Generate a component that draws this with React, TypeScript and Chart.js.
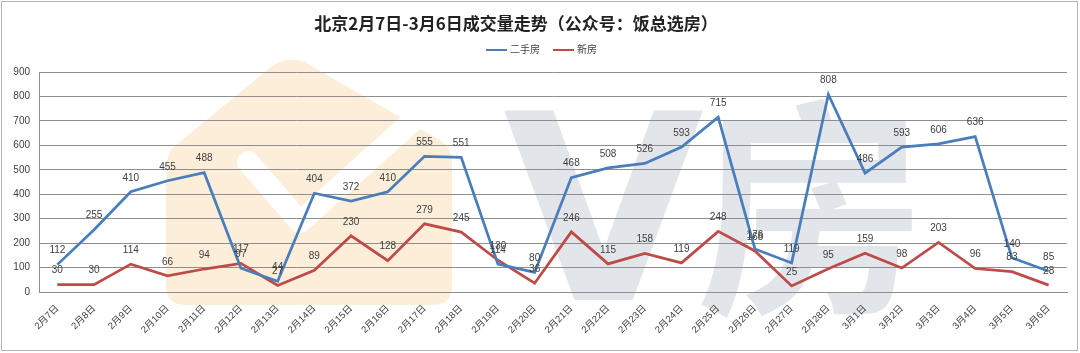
import React, { useEffect, useRef } from "react";
import { Chart, registerables } from "chart.js";

Chart.register(...registerables);

const titleText = "北京2月7日-3月6日成交量走势（公众号：饭总选房）";

const categories = [
  "2月7日", "2月8日", "2月9日", "2月10日", "2月11日", "2月12日", "2月13日",
  "2月14日", "2月15日", "2月16日", "2月17日", "2月18日", "2月19日", "2月20日",
  "2月21日", "2月22日", "2月23日", "2月24日", "2月25日", "2月26日", "2月27日",
  "2月28日", "3月1日", "3月2日", "3月3日", "3月4日", "3月5日", "3月6日",
];

const secondHandLabel = "二手房";
const secondHand = [
  112, 255, 410, 455, 488, 97, 44, 404, 372, 410, 555, 551, 114, 80,
  468, 508, 526, 593, 715, 176, 119, 808, 486, 593, 606, 636, 140, 85,
];

const newHomeLabel = "新房";
const newHomes = [
  30, 30, 114, 66, 94, 117, 27, 89, 230, 128, 279, 245, 130, 36,
  246, 115, 158, 119, 248, 168, 25, 95, 159, 98, 203, 96, 83, 28,
];

const yMin = 0;
const yMax = 900;
const yStep = 100;

const BLUE = "#4a7ebb";
const RED = "#be4b48";
const GRID = "#8e8e8e";
const TEXT = "#404040";
const FONT = "'Liberation Sans', 'Noto Sans CJK SC', sans-serif";

const decorPlugin = {
  id: "decor",
  beforeDraw(chart: any) {
    const ctx = chart.ctx as CanvasRenderingContext2D;
    const w = chart.width;
    const h = chart.height;
    ctx.save();
    ctx.fillStyle = "#ffffff";
    ctx.fillRect(0, 0, w, h);

    // watermark: orange house logo
    ctx.fillStyle = "#fdeed9";
    ctx.beginPath();
    ctx.moveTo(170, 150);
    ctx.lineTo(272, 66);
    ctx.quadraticCurveTo(290, 54, 308, 64);
    ctx.lineTo(440, 140);
    ctx.quadraticCurveTo(452, 148, 452, 162);
    ctx.lineTo(452, 285);
    ctx.quadraticCurveTo(452, 305, 432, 305);
    ctx.lineTo(186, 305);
    ctx.quadraticCurveTo(166, 305, 166, 285);
    ctx.lineTo(166, 165);
    ctx.closePath();
    ctx.fill();
    ctx.strokeStyle = "#ffffff";
    ctx.lineWidth = 22;
    ctx.lineCap = "round";
    ctx.lineJoin = "round";
    ctx.beginPath();
    ctx.moveTo(248, 162);
    ctx.lineTo(300, 222);
    ctx.lineTo(445, 92);
    ctx.stroke();

    // watermark: gray text
    ctx.fillStyle = "#e2e5ea";
    ctx.textBaseline = "alphabetic";
    ctx.textAlign = "left";
    ctx.font = "bold 260px 'DejaVu Sans', sans-serif";
    ctx.fillText("V", 503, 300);
    ctx.font = "bold 230px 'Noto Sans CJK SC', sans-serif";
    ctx.fillText("房", 696, 295);
    ctx.restore();
  },
  afterDraw(chart: any) {
    const ctx = chart.ctx as CanvasRenderingContext2D;
    ctx.save();
    // outer border
    ctx.strokeStyle = "#b4b4b4";
    ctx.lineWidth = 1;
    ctx.strokeRect(1.5, 1.5, chart.width - 4, chart.height - 4);

    // title
    ctx.fillStyle = "#222222";
    ctx.font = `bold 17px 'Noto Sans CJK SC', sans-serif`;
    ctx.textAlign = "center";
    ctx.textBaseline = "middle";
    ctx.fillText(titleText, 516, 24);

    // legend
    ctx.font = `10px ${FONT}`;
    ctx.textAlign = "left";
    let x = 486;
    const ly = 50;
    chart.data.datasets.forEach((ds: any) => {
      ctx.strokeStyle = ds.borderColor;
      ctx.lineWidth = 2;
      ctx.beginPath();
      ctx.moveTo(x, ly);
      ctx.lineTo(x + 21, ly);
      ctx.stroke();
      ctx.fillStyle = TEXT;
      ctx.fillText(ds.label, x + 24, ly);
      x += 24 + ctx.measureText(ds.label).width + 13;
    });

    // data labels
    ctx.font = `10px ${FONT}`;
    ctx.textAlign = "center";
    ctx.textBaseline = "middle";
    ctx.fillStyle = TEXT;
    chart.data.datasets.forEach((ds: any, di: number) => {
      const meta = chart.getDatasetMeta(di);
      meta.data.forEach((pt: any, i: number) => {
        ctx.fillText(String(ds.data[i]), pt.x, pt.y - 14);
      });
    });
    ctx.restore();
  },
};

export default function App() {
  const ref = useRef<HTMLCanvasElement | null>(null);

  useEffect(() => {
    document.body.style.margin = "0";
    const canvas = ref.current!;
    const chart = new Chart(canvas, {
      type: "line",
      data: {
        labels: categories,
        datasets: [
          {
            label: secondHandLabel,
            data: secondHand,
            borderColor: BLUE,
            backgroundColor: BLUE,
            borderWidth: 2.75,
            pointRadius: 0,
            tension: 0,
          },
          {
            label: newHomeLabel,
            data: newHomes,
            borderColor: RED,
            backgroundColor: RED,
            borderWidth: 2.75,
            pointRadius: 0,
            tension: 0,
          },
        ],
      },
      options: {
        responsive: false,
        animation: false,
        layout: { padding: { top: 72, right: 13, bottom: 0, left: 0 } },
        plugins: {
          legend: { display: false },
          title: { display: false },
          tooltip: { enabled: false },
        },
        scales: {
          x: {
            offset: true,
            afterFit: (s: any) => {
              s.height = 61;
            },
            grid: { display: false, drawTicks: false },
            border: { display: true, color: GRID },
            ticks: {
              autoSkip: false,
              maxRotation: 45,
              minRotation: 45,
              padding: 11,
              color: TEXT,
              font: { size: 9.5, family: FONT },
            },
          },
          y: {
            min: yMin,
            max: yMax,
            afterFit: (s: any) => {
              s.width = 39;
            },
            grid: { color: GRID, drawTicks: false },
            border: { display: true, color: GRID },
            ticks: {
              stepSize: yStep,
              padding: 9,
              color: TEXT,
              font: { size: 10, family: FONT },
            },
          },
        },
      },
      plugins: [decorPlugin],
    });
    return () => chart.destroy();
  }, []);

  return <canvas ref={ref} width={1080} height={353} style={{ display: "block" }} />;
}
